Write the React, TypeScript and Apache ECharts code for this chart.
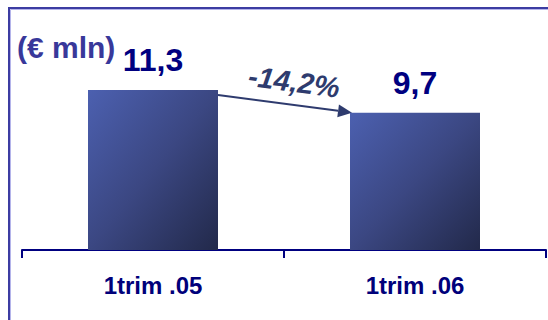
import React, { useEffect, useRef } from "react";
import * as echarts from "echarts";

const categories = ["1trim .05", "1trim .06"];
const values = [11.3, 9.7];
const valueLabels = ["11,3", "9,7"];
const changeLabel = "-14,2%";
const unitLabel = "(€ mln)";

const FONT = "'Liberation Sans', Arial, sans-serif";
const BAR_W = 130;

export default function App() {
  const ref = useRef<HTMLDivElement>(null);
  useEffect(() => {
    if (!ref.current) return;
    const chart = echarts.init(ref.current, null, { renderer: "svg" });
    const option: any = {
      animation: false,
      backgroundColor: "#ffffff",
      grid: { left: 22, right: 2, top: 23.5, bottom: 70, containLabel: false },
      xAxis: {
        type: "category",
        data: categories,
        axisLine: { show: true, lineStyle: { color: "#000080", width: 2 } },
        axisTick: { show: true, length: 8, lineStyle: { color: "#000080", width: 2 } },
        axisLabel: {
          color: "#00007a",
          fontFamily: FONT,
          fontWeight: "bold",
          fontSize: 24,
          margin: 23,
        },
      },
      yAxis: {
        type: "value",
        min: 0,
        max: 16,
        show: false,
        splitLine: { show: false },
      },
      series: [
        {
          type: "bar",
          data: values,
          barWidth: BAR_W,
          itemStyle: {
            color: new echarts.graphic.LinearGradient(0, 0, 1, 1, [
              { offset: 0, color: "#4c60b0" },
              { offset: 0.5, color: "#3b4782" },
              { offset: 1, color: "#22294a" },
            ]),
          },
          label: {
            show: true,
            position: "top",
            distance: 14,
            formatter: (p: any) => valueLabels[p.dataIndex],
            color: "#000080",
            fontFamily: FONT,
            fontWeight: "bold",
            fontSize: 32,
          },
        },
      ],
    };
    chart.setOption(option);

    const p1 = chart.convertToPixel({ gridIndex: 0 }, [0, values[0]]) as number[];
    const p2 = chart.convertToPixel({ gridIndex: 0 }, [1, values[1]]) as number[];
    const x1 = p1[0] + BAR_W / 2;
    const y1 = p1[1] + 5;
    const x2 = p2[0] - BAR_W / 2 + 2;
    const y2 = p2[1];
    const dx = x2 - x1;
    const dy = y2 - y1;
    const len = Math.sqrt(dx * dx + dy * dy);
    const ux = dx / len;
    const uy = dy / len;
    const headL = 14;
    const headW = 6.5;
    const bx = x2 - ux * headL;
    const by = y2 - uy * headL;
    const angle = Math.atan2(dy, dx);
    const mx = (x1 + x2) / 2;
    const my = (y1 + y2) / 2;

    chart.setOption({
      graphic: [
        {
          type: "rect",
          shape: { x: 9, y: 8, width: 700, height: 500 },
          style: { fill: "none", stroke: "#3c3ca2", lineWidth: 2 },
          silent: true,
        },
        {
          type: "rect",
          shape: { x: 10.5, y: 9.5, width: 700, height: 500 },
          style: { fill: "none", stroke: "#b4b4ea", lineWidth: 1 },
          silent: true,
        },
        {
          type: "text",
          left: 17,
          top: 32,
          style: {
            text: unitLabel,
            fill: "#38389a",
            font: `bold 30px ${FONT}`,
          },
        },
        {
          type: "line",
          shape: { x1, y1, x2: bx, y2: by },
          style: { stroke: "#2e3b6e", lineWidth: 2 },
        },
        {
          type: "polygon",
          shape: {
            points: [
              [x2, y2],
              [bx - uy * headW, by + ux * headW],
              [bx + uy * headW, by - ux * headW],
            ],
          },
          style: { fill: "#2e3b6e" },
        },
        {
          type: "text",
          x: mx + 9,
          y: my - 22,
          rotation: -angle,
          style: {
            text: changeLabel,
            fill: "#2e3b6e",
            font: `italic bold 29px ${FONT}`,
            align: "center",
            verticalAlign: "middle",
          },
        },
      ],
    });

    return () => chart.dispose();
  }, []);
  return (
    <div
      ref={ref}
      style={{ position: "fixed", left: 0, top: 0, width: 548, height: 320, background: "#fff" }}
    />
  );
}
